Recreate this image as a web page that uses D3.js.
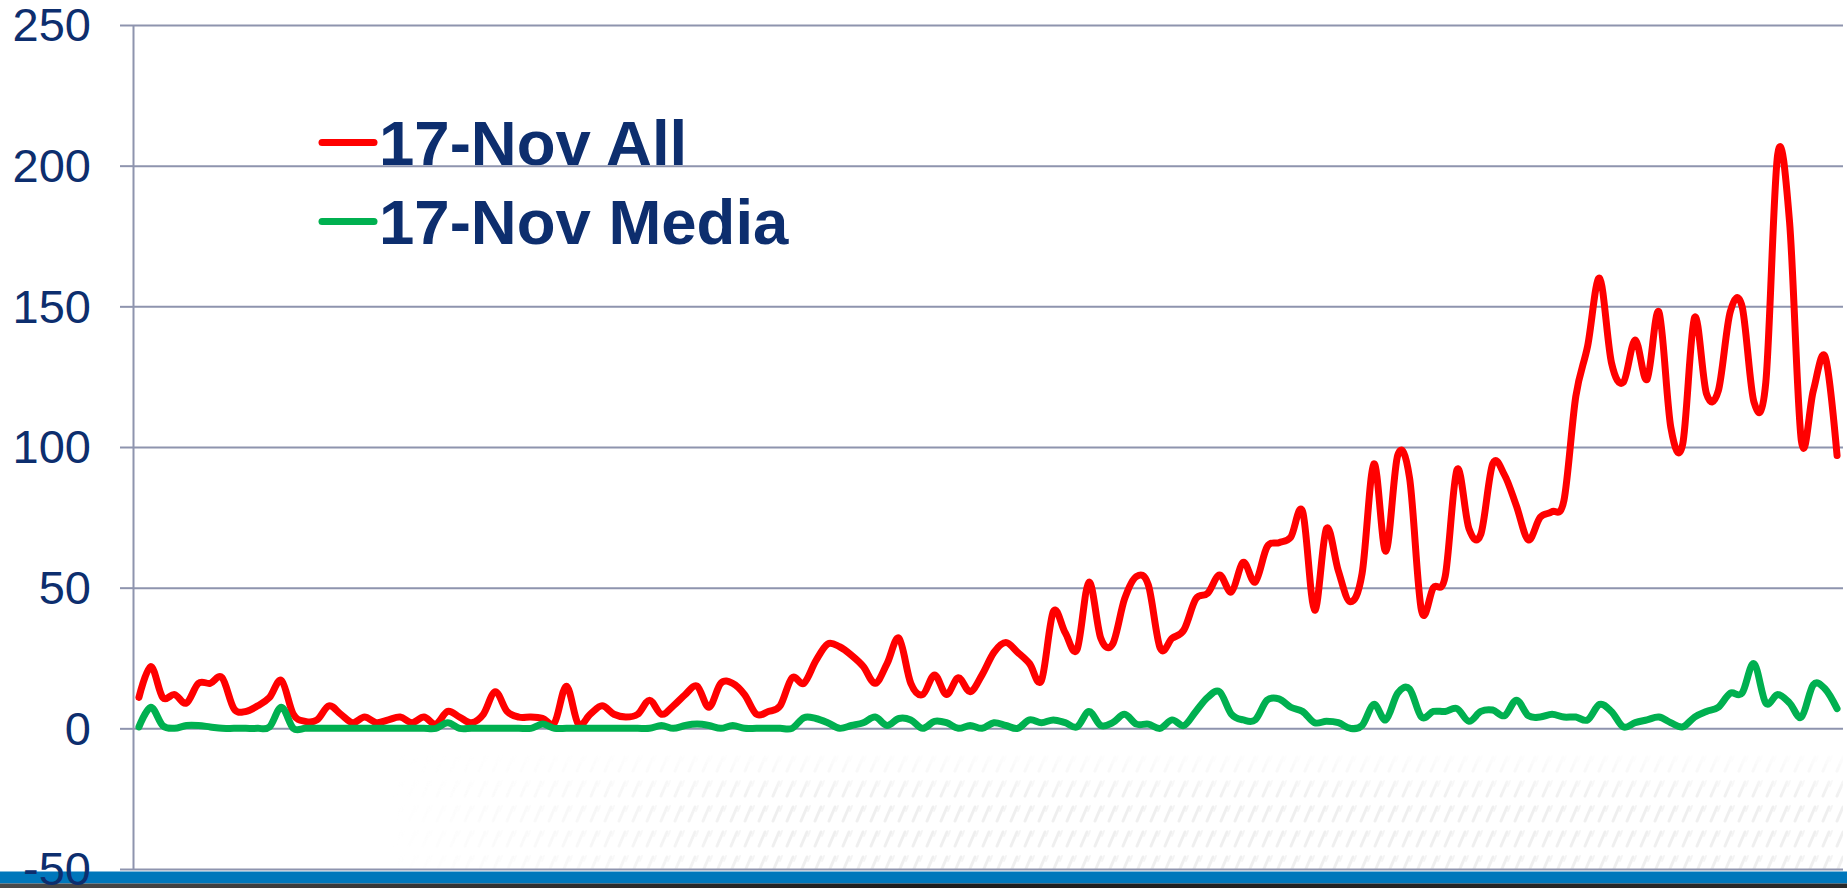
<!DOCTYPE html>
<html>
<head>
<meta charset="utf-8">
<script src="https://cdn.jsdelivr.net/npm/d3@7"></script>
<style>
  html, body { margin: 0; padding: 0; background: #ffffff; overflow: hidden; }
  svg { display: block; }
</style>
</head>
<body>
<svg id="chart" width="1847" height="888"></svg>
<script>
// Tweet counts per 10-minute slot, 17 November
const allCounts = [
  11, 22, 11, 12, 9, 16, 16, 18, 7, 6,
  8, 11, 17, 5, 2.5, 3, 8, 5, 2, 4,
  2, 3, 4, 2, 4, 1.5, 6, 4, 2, 5,
  13, 6, 4, 4, 3.5, 2, 15, 1.5, 5, 8,
  5, 4, 5, 10, 5, 8, 12, 15, 7.5, 16,
  16, 12, 5, 6, 8, 18, 16, 24, 30, 29,
  26, 22, 16, 23, 32, 16, 12, 19, 12, 18,
  13, 19, 27, 30.5, 27, 23, 17, 41.5, 34, 28,
  52, 32, 30, 46, 54, 51, 28.5, 32, 35, 46,
  48, 54.5, 48.5, 59, 52, 64.5, 66, 68, 77, 42,
  71, 56, 45, 55, 94, 63, 97, 89, 42, 50,
  54, 92, 71, 69, 94, 90, 79, 67, 75, 77,
  81, 118, 136, 160, 130, 123, 138, 124, 148, 107,
  101, 146, 119, 120, 148, 150, 116, 123, 204, 180,
  102, 120, 132, 97
];

const mediaCounts = [
  0.5, 7.5, 1, 0, 1, 1, 0.5, 0, 0, 0,
  0, 0.5, 7.5, 0, 0, 0, 0, 0, 0, 0,
  0, 0, 0, 0, 0, 0, 2, 0, 0, 0,
  0, 0, 0, 0, 1.5, 0, 0, 0, 0, 0,
  0, 0, 0, 0, 1, 0, 1, 1.5, 1, 0,
  1, 0, 0, 0, 0, 0, 3.8, 3.5, 2, 0,
  1, 2, 4, 1, 3.5, 3, 0, 2.5, 2, 0,
  1, 0, 2, 1, 0, 3, 2, 3, 2, 0.5,
  6, 1, 2, 5, 1.5, 1.5, 0, 3, 1, 6,
  11, 13, 5, 3, 3, 10, 10.5, 7.5, 6, 2,
  2.5, 2, 0, 1, 8.5, 3, 12.5, 14, 4, 6,
  6, 7, 2.5, 6, 6.5, 4.5, 10, 4.5, 4, 5,
  4, 4, 3, 8.5, 6, 0.5, 2, 3, 4, 2,
  0.5, 4, 6, 7.5, 12.5, 12.5, 23, 9, 12, 9,
  4, 15.5, 14, 7
];

const seriesNames = ["17-Nov All", "17-Nov Media"];
const seriesColors = ["#FF0000", "#00B050"];

const yTickValues = [-50, 0, 50, 100, 150, 200, 250];
const yTickLabels = ["-50", "0", "50", "100", "150", "200", "250"];

// Category labels: one per 10-minute slot
const slots = allCounts.map((_, i) => {
  const m = i * 10;
  return String(Math.floor(m / 60)).padStart(2, "0") + ":" + String(m % 60).padStart(2, "0");
});

const W = 1847, H = 888;
const plot = { left: 133, right: 1843, top: 25, bottom: 869 };
const navy = "#0D2E6E";
const gridColor = "#8E94AE";

const svg = d3.select("#chart");
svg.append("rect").attr("width", W).attr("height", H).attr("fill", "#ffffff");

const x = d3.scalePoint().domain(slots).range([plot.left, plot.right]).padding(0.5);
const y = d3.scaleLinear().domain([-50, 250]).range([plot.bottom, plot.top]);

// ---- faint slide texture along the lower right ----
const defs = svg.append("defs");
const pat = defs.append("pattern")
  .attr("id", "slashes").attr("patternUnits", "userSpaceOnUse")
  .attr("width", 14).attr("height", 25);
pat.append("path").attr("d", "M3,21 L9,7")
  .attr("stroke", "#dcdcdc").attr("stroke-width", 3).attr("stroke-linecap", "round");
pat.append("path").attr("d", "M10,11 L12,6")
  .attr("stroke", "#e8e8e8").attr("stroke-width", 2).attr("stroke-linecap", "round");

const gH = defs.append("linearGradient").attr("id", "fadeH")
  .attr("gradientUnits", "userSpaceOnUse")
  .attr("x1", 390).attr("x2", 780).attr("y1", 0).attr("y2", 0);
gH.append("stop").attr("offset", 0).attr("stop-color", "#000");
gH.append("stop").attr("offset", 1).attr("stop-color", "#fff");
const gV = defs.append("linearGradient").attr("id", "fadeV")
  .attr("gradientUnits", "userSpaceOnUse")
  .attr("x1", 0).attr("x2", 0).attr("y1", 748).attr("y2", 800);
gV.append("stop").attr("offset", 0).attr("stop-color", "#000");
gV.append("stop").attr("offset", 1).attr("stop-color", "#fff");
defs.append("mask").attr("id", "maskH")
  .append("rect").attr("x", 0).attr("y", 0).attr("width", W).attr("height", H).attr("fill", "url(#fadeH)");
defs.append("mask").attr("id", "maskV")
  .append("rect").attr("x", 0).attr("y", 0).attr("width", W).attr("height", H).attr("fill", "url(#fadeV)");

svg.append("g").attr("mask", "url(#maskV)")
  .append("g").attr("mask", "url(#maskH)")
  .append("rect")
  .attr("x", 380).attr("y", 748).attr("width", plot.right - 380).attr("height", plot.bottom - 748)
  .attr("fill", "url(#slashes)").attr("opacity", 0.45);

// ---- value axis with gridlines ----
const yAxis = d3.axisLeft(y)
  .tickValues(yTickValues)
  .tickFormat((d, i) => yTickLabels[i])
  .tickSizeInner(-(plot.right - plot.left))
  .tickSizeOuter(0)
  .tickPadding(42);

const axisG = svg.append("g")
  .attr("transform", `translate(${plot.left},0)`)
  .call(yAxis);

axisG.select(".domain").attr("stroke", gridColor).attr("stroke-width", 2);
axisG.selectAll(".tick line").attr("stroke", gridColor).attr("stroke-width", 2);
axisG.selectAll(".tick").append("line")
  .attr("x1", -13).attr("x2", 0).attr("y1", 0).attr("y2", 0)
  .attr("stroke", gridColor).attr("stroke-width", 2);
axisG.selectAll(".tick text")
  .attr("fill", navy)
  .attr("font-family", "'Liberation Sans', Arial, sans-serif")
  .attr("font-size", 47)
  .attr("dy", "0.34em");

// ---- series lines ----
const line = d3.line()
  .x((d, i) => x(slots[i]))
  .y(d => y(d))
  .curve(d3.curveCardinal.tension(0));

const linesG = svg.append("g");
[allCounts, mediaCounts].forEach((vals, s) => {
  linesG.append("path")
    .datum(vals)
    .attr("fill", "none")
    .attr("stroke", seriesColors[s])
    .attr("stroke-width", 7)
    .attr("stroke-linejoin", "round")
    .attr("stroke-linecap", "round")
    .attr("d", line);
});

// ---- legend ----
const legendRows = [142.5, 221.5];
seriesNames.forEach((name, s) => {
  const g = svg.append("g").attr("transform", `translate(0,${legendRows[s]})`);
  g.append("line")
    .attr("x1", 322).attr("x2", 374).attr("y1", 0).attr("y2", 0)
    .attr("stroke", seriesColors[s]).attr("stroke-width", 7).attr("stroke-linecap", "round");
  g.append("text")
    .attr("x", 379).attr("y", 22)
    .attr("fill", navy)
    .attr("font-family", "'Liberation Sans', Arial, sans-serif")
    .attr("font-weight", "bold")
    .attr("font-size", 63.5)
    .text(name);
});

// ---- footer bands ----
const footG = defs.append("linearGradient").attr("id", "footDark")
  .attr("x1", 0).attr("x2", 1).attr("y1", 0).attr("y2", 0);
footG.append("stop").attr("offset", 0).attr("stop-color", "#4a4a4a");
footG.append("stop").attr("offset", 0.5).attr("stop-color", "#1c1c1c");
footG.append("stop").attr("offset", 1).attr("stop-color", "#2a2a2a");
svg.append("rect").attr("x", 0).attr("y", 871.5).attr("width", W).attr("height", 12).attr("fill", "#0077BB");
svg.append("rect").attr("x", 0).attr("y", 883.5).attr("width", W).attr("height", 4.5).attr("fill", "url(#footDark)");

// tick labels and lines sit above the footer bands
axisG.raise();
linesG.raise();
</script>
</body>
</html>
